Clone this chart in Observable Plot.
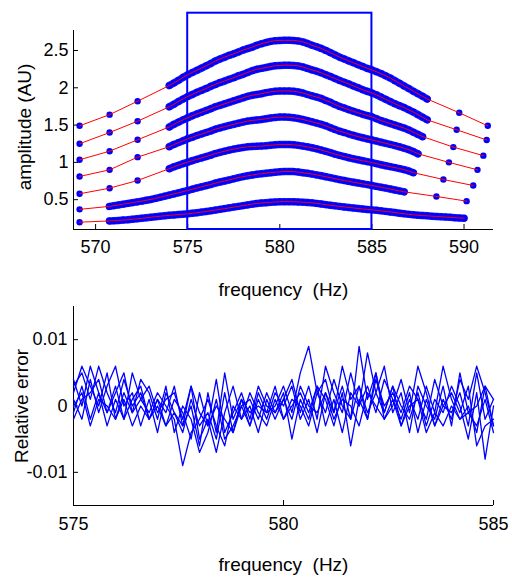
<!DOCTYPE html>
<html><head><meta charset="utf-8">
<script src="https://cdn.jsdelivr.net/npm/d3@7"></script>
<script src="https://cdn.jsdelivr.net/npm/@observablehq/plot@0.6"></script>
<style>
body{margin:0;background:#fff;overflow:hidden}
#c{width:512px;height:583px}
svg{display:block}
</style></head><body><div id="c"></div>
<script>
// ---------- top panel data ----------
const denseStep = 0.25;
const denseStart = [574, 574, 574, 574, 574, 570.75, 570.75];
const curve1Dense = [2.03,2.065,2.10,2.14,2.174,2.205,2.235,2.265,2.295,2.325,2.36,2.385,2.41,2.435,2.455,2.48,2.505,2.525,2.545,2.57,2.59,2.607,2.622,2.632,2.635,2.636,2.636,2.635,2.628,2.615,2.595,2.57,2.55,2.528,2.50,2.47,2.44,2.41,2.385,2.36,2.335,2.31,2.285,2.26,2.24,2.215,2.19,2.16,2.13,2.095,2.06,2.025,1.99,1.955,1.92,1.885,1.85];
const curve2Dense = [1.745,1.78,1.815,1.85,1.883,1.91,1.94,1.965,1.99,2.02,2.045,2.07,2.09,2.115,2.135,2.16,2.18,2.205,2.23,2.248,2.26,2.272,2.285,2.295,2.30,2.302,2.302,2.30,2.293,2.28,2.26,2.24,2.222,2.20,2.175,2.15,2.125,2.098,2.075,2.05,2.025,2.0,1.975,1.952,1.93,1.905,1.875,1.845,1.815,1.785,1.76,1.735,1.705,1.675,1.64,1.605,1.57];
const curve3Dense = [1.475,1.51,1.54,1.57,1.598,1.625,1.65,1.672,1.695,1.72,1.745,1.765,1.785,1.805,1.825,1.845,1.865,1.885,1.90,1.91,1.92,1.935,1.945,1.953,1.957,1.958,1.957,1.953,1.943,1.93,1.91,1.892,1.875,1.857,1.83,1.805,1.775,1.75,1.728,1.705,1.685,1.665,1.645,1.628,1.61,1.585,1.56,1.54,1.52,1.5,1.48,1.46,1.435,1.405,1.375,1.345];
const curve4Dense = [1.21,1.24,1.265,1.29,1.316,1.338,1.36,1.38,1.40,1.42,1.445,1.462,1.478,1.495,1.51,1.525,1.54,1.553,1.562,1.568,1.575,1.585,1.595,1.603,1.607,1.607,1.605,1.598,1.588,1.575,1.56,1.543,1.527,1.51,1.49,1.465,1.44,1.418,1.40,1.38,1.362,1.345,1.33,1.315,1.30,1.285,1.27,1.255,1.24,1.225,1.208,1.19,1.17,1.145,1.115];
const curve5Dense = [0.915,0.94,0.962,0.983,1.003,1.023,1.042,1.06,1.078,1.097,1.118,1.135,1.15,1.165,1.178,1.19,1.20,1.208,1.213,1.215,1.218,1.224,1.23,1.235,1.238,1.24,1.24,1.235,1.228,1.218,1.208,1.196,1.182,1.165,1.148,1.13,1.11,1.093,1.078,1.062,1.048,1.035,1.022,1.01,0.997,0.983,0.968,0.955,0.942,0.93,0.917,0.902,0.885,0.862];
const curve6Dense = [0.41,0.42,0.43,0.44,0.45,0.46,0.47,0.48,0.492,0.503,0.517,0.532,0.547,0.562,0.577,0.592,0.608,0.623,0.64,0.657,0.673,0.688,0.703,0.722,0.737,0.75,0.765,0.78,0.795,0.808,0.82,0.83,0.84,0.848,0.855,0.862,0.868,0.873,0.877,0.878,0.876,0.87,0.862,0.853,0.843,0.832,0.82,0.807,0.795,0.782,0.768,0.757,0.745,0.734,0.723,0.712,0.702,0.69,0.678,0.667,0.655,0.643,0.63,0.617,0.605];
const curve7Dense = [0.215,0.218,0.222,0.226,0.23,0.236,0.243,0.25,0.257,0.265,0.272,0.278,0.284,0.29,0.295,0.3,0.305,0.31,0.317,0.325,0.333,0.342,0.35,0.36,0.37,0.38,0.39,0.40,0.41,0.42,0.43,0.44,0.448,0.455,0.46,0.465,0.469,0.472,0.473,0.473,0.472,0.47,0.467,0.463,0.457,0.45,0.442,0.433,0.425,0.417,0.41,0.403,0.396,0.389,0.382,0.375,0.369,0.363,0.357,0.35,0.343,0.335,0.327,0.318,0.31,0.303,0.297,0.292,0.287,0.283,0.279,0.275,0.271,0.267,0.263,0.259,0.255,0.252];
// sparse points [frequency, amplitude]
const curve1Sparse = [[569.13,1.49],[570.76,1.64],[572.28,1.82],[589.74,1.665],[591.29,1.49]];
const curve2Sparse = [[569.13,1.25],[570.76,1.40],[572.28,1.552],[589.6,1.437],[591.23,1.30]];
const curve3Sparse = [[569.13,1.035],[570.76,1.15],[572.28,1.303],[589.42,1.205],[591.05,1.09]];
const curve4Sparse = [[569.13,0.811],[570.76,0.90],[572.28,1.07],[589.18,1.0],[590.73,0.90]];
const curve5Sparse = [[569.13,0.579],[570.76,0.654],[572.28,0.757],[588.88,0.77],[590.5,0.69]];
const curve6Sparse = [[569.13,0.37],[588.5,0.543],[590.14,0.48]];
const curve7Sparse = [[569.13,0.198]];
const boxFreq = [575, 585];
const boxAmp = [0.1, 3.0];
const topXTicks = [570, 575, 580, 585, 590];
const topYTicks = [0.5, 1, 1.5, 2, 2.5];

// ---------- bottom panel data ----------
const errStart = 575, errStep = 0.2;
const err1 = [3,5,1,6,2,-1,4,0,2,-2,1,-1,3,-3,0,-6,2,-4,5,-2,1,-3,2,-1,0,3,-1,5,9,2,4,-1,6,1,3,-2,4,0,2,-1,3,1,-2,4,0,-1,2,-3,5,-2,1];
const err2 = [1,-2,4,-1,3,6,0,2,-3,1,-4,2,-1,-3,3,-5,-2,-7,-1,3,-2,0,-4,1,-2,1,4,-1,3,-2,6,2,-1,5,0,8,2,-1,3,-3,1,-2,3,-1,6,1,-2,0,-4,3,-3];
const err3 = [-1,3,-2,2,-3,1,-2,5,1,-1,2,0,-2,-9,-4,-2,1,-3,-6,0,-2,2,-1,-3,1,-2,0,2,-1,3,-3,1,-4,2,0,3,-1,4,1,-2,2,-4,1,-3,0,2,-1,3,-6,-3,-2];
const err4 = [4,0,6,2,-1,3,-2,1,3,-2,0,-3,1,-1,-5,2,-3,4,-4,-1,2,-2,3,0,-1,2,-5,1,-2,3,1,-3,2,-6,1,-2,5,-1,3,0,-2,2,-3,1,-1,3,0,-5,2,-8,0];
const err5 = [2,6,3,0,5,-2,2,-1,4,2,-2,3,-4,0,-2,-7,-4,1,-5,-3,0,-3,1,-2,2,0,3,-2,1,-4,2,-1,3,-2,9,1,5,-2,0,4,-1,6,2,-3,1,-2,4,1,6,2,-3];
const err6 = [0,2,-3,1,0,-2,1,-3,0,-2,1,-3,-1,-4,1,-3,-1,-5,2,-4,0,1,-2,2,-1,1,-2,3,0,-1,2,-2,1,0,-3,2,0,-2,1,-3,0,1,-4,-1,-3,0,-2,-1,-3,1,-4];
const err7 = [-2,1,2,4,-1,2,5,-1,1,3,-1,1,2,-2,3,-1,-3,0,-2,-4,1,-1,0,-1,3,-2,1,0,-3,2,-1,4,0,-2,3,-1,2,6,-1,2,-4,3,0,-2,3,-3,5,-1,0,3,1]; // units of 1e-3
const botXTicks = [575, 580, 585];
const botYTicks = [-0.01, 0, 0.01];

// ---------- build tables ----------
const denseAll = [curve1Dense, curve2Dense, curve3Dense, curve4Dense, curve5Dense, curve6Dense, curve7Dense];
const sparseAll = [curve1Sparse, curve2Sparse, curve3Sparse, curve4Sparse, curve5Sparse, curve6Sparse, curve7Sparse];
const denseData = [], sparseData = [], lineData = [];
denseAll.forEach((arr, c) => arr.forEach((v, i) => denseData.push({c, f: denseStart[c] + i * denseStep, v})));
sparseAll.forEach((arr, c) => arr.forEach(([f, v]) => sparseData.push({c, f, v})));
for (let c = 0; c < 7; c++) {
  const pts = denseData.filter(d => d.c === c).concat(sparseData.filter(d => d.c === c));
  pts.sort((a, b) => a.f - b.f);
  lineData.push(...pts);
}
const errData = [];
[err1, err2, err3, err4, err5, err6, err7].forEach((arr, c) =>
  arr.forEach((m, i) => errData.push({c, f: errStart + i * errStep, e: m / 1000})));

const font = "'Liberation Sans', Arial, Helvetica, sans-serif";
const topX = [568.8, 591.6], topY = [0.1, 2.768];
const botX = [575, 585], botY = [-0.015, 0.015];
const frameW = 512 - 73 - 19, frameH = 199;

const topChart = Plot.plot({
  width: 512, height: 305, marginLeft: 73, marginRight: 19, marginTop: 30, marginBottom: 76,
  x: {domain: topX}, y: {domain: topY},
  style: {fontFamily: font, fontSize: "18px", background: "white", overflow: "visible", color: "black"},
  marks: [
    Plot.ruleY([topY[0]], {stroke: "black", strokeWidth: 1}),
    Plot.ruleX([topX[0]], {stroke: "black", strokeWidth: 1}),
    Plot.tickX(topXTicks, {x: d => d, insetTop: frameH - 5, stroke: "black"}),
    Plot.tickY(topYTicks, {y: d => d, insetRight: frameW - 5, stroke: "black"}),
    Plot.axisX({ticks: topXTicks, tickSize: 0, tickPadding: 11, fontSize: 18, tickFormat: d => String(d), label: null}),
    Plot.axisY({ticks: topYTicks, tickSize: 0, tickPadding: 5, fontSize: 18, tickFormat: d => String(d), label: null}),
    Plot.line(denseData, {x: "f", y: "v", z: "c", stroke: "#2a2aff", strokeWidth: 7.5, strokeLinecap: "round"}),
    Plot.dot(denseData, {x: "f", y: "v", r: 3.5, fill: "#0000ff", stroke: null}),
    Plot.dot(sparseData, {x: "f", y: "v", r: 3.2, fill: "#0000ff", stroke: null}),
    Plot.rect([{x1: boxFreq[0], x2: boxFreq[1], y1: boxAmp[0], y2: boxAmp[1]}],
      {x1: "x1", x2: "x2", y1: "y1", y2: "y2", fill: "none", stroke: "#0000ff", strokeWidth: 2}),
    Plot.line(lineData, {x: "f", y: "v", z: "c", stroke: "#ff0000", strokeWidth: 1}),
    Plot.text(["frequency  (Hz)"], {frameAnchor: "bottom", dy: 66, fontSize: 19}),
    Plot.text(["amplitude (AU)"], {frameAnchor: "left", textAnchor: "middle", dx: -49, dy: -3, rotate: -90, fontSize: 19})
  ]
});

const botChart = Plot.plot({
  width: 512, height: 278, marginLeft: 73, marginRight: 19, marginTop: 1, marginBottom: 78,
  x: {domain: botX}, y: {domain: botY},
  style: {fontFamily: font, fontSize: "18px", background: "white", overflow: "visible", color: "black"},
  marks: [
    Plot.ruleY([botY[0]], {stroke: "black", strokeWidth: 1}),
    Plot.ruleX([botX[0]], {stroke: "black", strokeWidth: 1}),
    Plot.tickX(botXTicks, {x: d => d, insetTop: frameH - 5, stroke: "black"}),
    Plot.tickY(botYTicks, {y: d => d, insetRight: frameW - 5, stroke: "black"}),
    Plot.axisX({ticks: botXTicks, tickSize: 0, tickPadding: 12, fontSize: 18, tickFormat: d => String(d), label: null}),
    Plot.axisY({ticks: botYTicks, tickSize: 0, tickPadding: 6, fontSize: 18, tickFormat: d => String(d), label: null}),
    Plot.line(errData, {x: "f", y: "e", z: "c", stroke: "#0000ff", strokeWidth: 1.3}),
    Plot.text(["frequency  (Hz)"], {frameAnchor: "bottom", dy: 65, fontSize: 19}),
    Plot.text(["Relative error"], {frameAnchor: "left", textAnchor: "middle", dx: -52, rotate: -90, fontSize: 19})
  ]
});

document.getElementById("c").append(topChart, botChart);
</script></body></html>
